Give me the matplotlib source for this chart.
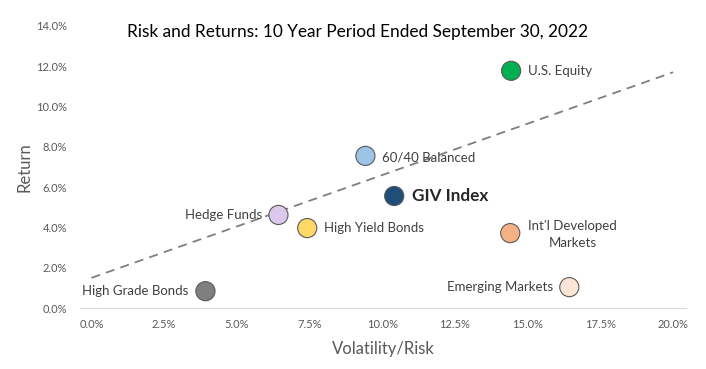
import matplotlib
matplotlib.use("Agg")
import matplotlib.pyplot as plt
from matplotlib.ticker import FuncFormatter, MultipleLocator

plt.rcParams['font.family'] = ['Lato', 'DejaVu Sans']

# data (percent)
names = ["U.S. Equity", "60/40 Balanced", "GIV Index", "Hedge Funds",
         "High Yield Bonds", "Int'l Developed\nMarkets", "Emerging Markets",
         "High Grade Bonds"]
risk = [14.43, 9.42, 10.41, 6.43, 7.42, 14.40, 16.43, 3.92]
ret = [11.77, 7.55, 5.56, 4.62, 3.97, 3.72, 1.04, 0.84]
colors = ["#00B050", "#9DC3E6", "#1F4E79", "#DCC8EA", "#FFD966",
          "#F4B183", "#FBE5D6", "#7F7F7F"]
trend_x = [0.0, 20.0]
trend_y = [1.5, 11.7]

# label placement: (dx, dy in points, ha)
label_pos = [(12, 0, "left"), (12, -1, "left"), (13, 0, "left"),
             (-12, 0, "right"), (12, 0, "left"), (45, -1, "center"),
             (-12, 0, "right"), (-12, 0, "right")]

fig = plt.figure(figsize=(7.06, 3.69), dpi=100)
ax = fig.add_axes([0.113, 0.165, 0.859, 0.765])

ax.plot(trend_x, trend_y, linestyle=(0, (5, 3.5)), color="#7F7F7F", lw=1.3, zorder=1)
ax.scatter(risk, ret, s=190, c=colors, edgecolors="#595959", linewidths=0.8, zorder=3)

for i, name in enumerate(names):
    dx, dy, ha = label_pos[i]
    bold = name == "GIV Index"
    ax.annotate(name, (risk[i], ret[i]), xytext=(dx, dy), textcoords="offset points",
                ha=ha, va="center", fontsize=12.3 if bold else 9.5,
                fontweight="bold" if bold else "normal",
                color="#262626" if bold else "#404040", zorder=4,
                linespacing=1.55)

ax.set_xlim(-0.4, 20.45)
ax.set_ylim(0, 14)
ax.xaxis.set_major_locator(MultipleLocator(2.5))
ax.yaxis.set_major_locator(MultipleLocator(2))
ax.xaxis.set_major_formatter(FuncFormatter(lambda v, p: f"{v:.1f}%"))
ax.yaxis.set_major_formatter(FuncFormatter(lambda v, p: f"{v:.1f}%"))
ax.tick_params(length=0, labelsize=8, labelcolor="#595959")
ax.tick_params(axis="y", pad=9)
ax.tick_params(axis="x", pad=8)

for s in ["top", "right", "left"]:
    ax.spines[s].set_visible(False)
ax.spines["bottom"].set_color("#D9D9D9")

ax.set_xlabel("Volatility/Risk", fontsize=12, color="#595959", labelpad=8)
ax.set_ylabel("Return", fontsize=12, color="#595959", labelpad=3)
fig.text(0.507, 0.912, "Risk and Returns: 10 Year Period Ended September 30, 2022",
         ha="center", va="center", fontsize=12.4, color="#000000")

fig.savefig("out.png", dpi=100)
